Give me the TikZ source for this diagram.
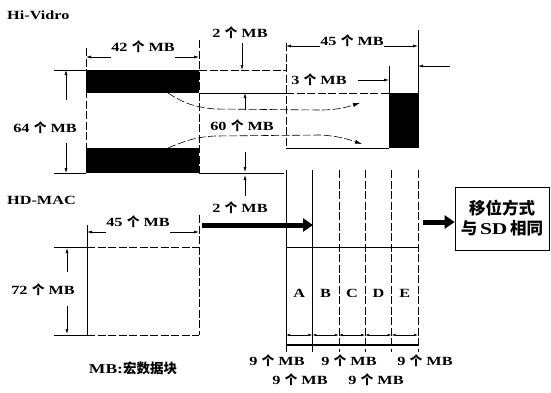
\documentclass[tikz,border=0pt]{standalone}
\usepackage{fontspec}
\setmainfont{Liberation Serif}[FakeStretch=1.3, BoldFeatures={FakeStretch=1.3}]
\newfontfamily\cjk{Noto Sans CJK SC}
\usetikzlibrary{arrows.meta}
\newcommand{\nmb}[1]{#1\hspace{4.5pt}{\cjk 个}\hspace{4pt}MB}

\begin{document}
\begin{tikzpicture}[x=1pt, y=-1pt,
  lbl/.style={font={\bfseries\fontsize{12.5}{14}\selectfont}, inner sep=0.5pt},
  title/.style={font={\bfseries\fontsize{12.5}{14}\selectfont}, anchor=west, inner sep=0pt},
  dimarr/.style={-{Latex[length=5pt,width=3pt]}, line width=0.6pt},
  twoarr/.style={{Latex[length=4pt,width=2.5pt]}-{Latex[length=4pt,width=2.5pt]}, line width=0.6pt},
  extline/.style={line width=0.6pt, dash pattern=on 8pt off 2.5pt},
  solidline/.style={line width=0.6pt},
  blackbar/.style={fill=black},
  fatarr/.style={-{Triangle[length=10pt,width=13pt]}, line width=5pt},
  curvearr/.style={extline, -{Latex[length=7pt,width=4pt]}}
]
\path[use as bounding box] (0,0) rectangle (551,392);

% Hi-Vidro
\node[title] (hivid) at (7,15) {Hi-Vidro};
\draw[extline] (86,48) -- (86,173);
\draw[extline] (199,40) -- (199,173);
\draw[extline] (286,43) -- (286,148);
\draw[solidline] (54,70) -- (86,70);
\draw[extline] (199,70) -- (286,70);
\draw[solidline] (199,93) -- (286,93);
\draw[extline] (286,93) -- (389,93);
\draw[solidline] (286,148) -- (389,148);
\draw[solidline] (54,173) -- (86,173);
\draw[solidline] (199,173) -- (284,173);
\draw[solidline] (418,30) -- (418,148);
\draw[solidline] (389,66) -- (389,93);
\fill[blackbar] (86,70) rectangle (199,93);
\fill[blackbar] (86,148) rectangle (199,173);
\fill[blackbar] (389,93) rectangle (418,148);

% moving the black bars
\draw[curvearr] (168,93) .. controls (185,104) and (195,107) .. (215,109)
  -- (320,110) .. controls (340,110) and (350,106) .. (360,103);
\draw[curvearr] (168,148) .. controls (185,141) and (195,137) .. (215,136)
  -- (320,135) .. controls (340,136) and (350,140) .. (362,144);

\node[lbl] (w42) at (143,47) {\nmb{42}};
\draw[dimarr] (w42.west |- 0,57) -- (86,57);
\draw[dimarr] (w42.east |- 0,57) -- (199,57);
\node[lbl] (h2a) at (240,33) {\nmb{2}};
\draw[dimarr] (242,43) -- (242,70);
\draw[dimarr] (245,110) -- (245,93);
\node[lbl] (w45a) at (352,41) {\nmb{45}};
\draw[dimarr] (w45a.west |- 0,46) -- (286,46);
\draw[dimarr] (w45a.east |- 0,46) -- (418,46);
\node[lbl] (w3) at (319,80) {\nmb{3}};
\draw[dimarr] (358,80) -- (389,80);
\draw[dimarr] (450,66) -- (418,66);
\node[lbl] (h64) at (45,128) {\nmb{64}};
\draw[dimarr] (66,100) -- (66,70);
\draw[dimarr] (66,143) -- (66,173);
\node[lbl] (h60) at (242,126) {\nmb{60}};
\draw[dimarr] (245,152) -- (245,172);
\draw[dimarr] (245,196) -- (245,175);

% HD-MAC
\node[title] (hdmac) at (7,200) {HD-MAC};
\draw[solidline] (87,225) -- (87,335);
\draw[extline] (199,215) -- (199,335);
\draw[extline] (87,247) -- (199,247);
\draw[extline] (87,335) -- (199,335);
\draw[solidline] (54,247) -- (87,247);
\draw[solidline] (54,335) -- (87,335);
\node[lbl] (w45b) at (138,222) {\nmb{45}};
\draw[dimarr] (w45b.west |- 0,232) -- (87,232);
\draw[dimarr] (w45b.east |- 0,232) -- (199,232);
\node[lbl] (h72) at (43,290) {\nmb{72}};
\draw[dimarr] (67,272) -- (67,248);
\draw[dimarr] (67,306) -- (67,334);
\node[lbl] (h2b) at (240,208) {\nmb{2}};

% five columns of 9 MB
\foreach \i in {0,1}
  \draw[solidline] ({286+26.4*\i},170) -- ({286+26.4*\i},352);
\foreach \i in {2,...,5}
  \draw[extline] ({286+26.4*\i},170) -- ({286+26.4*\i},352);
\draw[solidline] (286,247) -- (418,247);
\foreach \c [count=\i from 0] in {A,B,C,D,E}
  \node[lbl] (col\c) at ({299.2+26.4*\i},293) {\c};
\foreach \i in {0,...,4}
  \draw[twoarr] ({286+26.4*\i},335) -- ({312.4+26.4*\i},335);
\draw[line width=1.8pt] (286,345) -- (418,345);

\coordinate (hdfrom) at (202,225);
\draw[fatarr] (hdfrom) -- (hdfrom -| 313,0);

\node[lbl] (r1a) at (277,361) {\nmb{9}};
\node[lbl] (r1b) at (349,361) {\nmb{9}};
\node[lbl] (r1c) at (425,361) {\nmb{9}};
\node[lbl] (r2a) at (300,380) {\nmb{9}};
\node[lbl] (r2b) at (376,380) {\nmb{9}};
\node[lbl, font={\bfseries\fontsize{13.5}{15}\selectfont}] (mbnote) at (133,368)
  {MB:{\cjk 宏数据块}};

\node[draw, line width=0.7pt, minimum width=94pt, minimum height=63pt,
  inner sep=0pt, align=center, font={\fontsize{16.5}{20}\selectfont\cjk\bfseries}]
  (shift) at (502,218.5) {移位方式\\与\,{\rmfamily\bfseries SD}\,相同};
\coordinate (shiftin) at (423,222);
\draw[fatarr] (shiftin) -- (shiftin -| shift.west);
\end{tikzpicture}
\end{document}
